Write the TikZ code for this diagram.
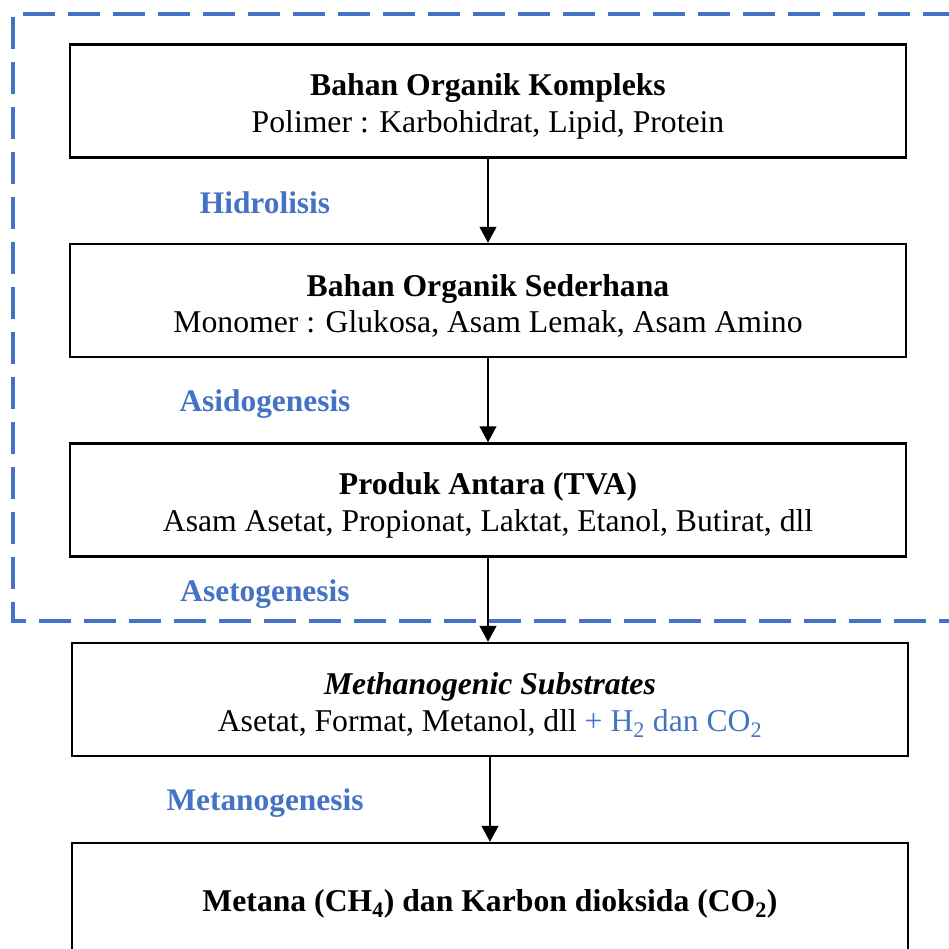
\documentclass[tikz,border=0pt]{standalone}
\usepackage{fontspec}
\setmainfont{Liberation Serif}
\usepackage{xcolor}
\usepackage{tikz}
\usetikzlibrary{arrows.meta}
\definecolor{stageblue}{HTML}{4472C4}
\newcommand{\toppad}{\rule{0pt}{33bp}}

\begin{document}
\begin{tikzpicture}[x=1bp, y=-1bp,
  box/.style={draw, line width=2.5bp, minimum width=836bp, minimum height=113bp,
              align=center, inner sep=0pt, font=\fontsize{31.8}{37}\selectfont},
  arr/.style={-{Triangle[width=17bp,length=16bp]}, line width=1.3bp},
  stage/.style={font=\fontsize{31.5}{34}\selectfont\bfseries, text=stageblue},
]
\useasboundingbox (0,0) rectangle (949,949);
% Fase hidrolisis s/d asetogenesis
\draw[stageblue, line width=4bp, dash pattern=on 32bp off 13bp] (1000,14) -- (13,14) -- (13,621) -- (1000,621);

% Tahapan
\node[box] (kompleks) at (488,101) {\toppad\textbf{Bahan Organik Kompleks}\\Polimer : Karbohidrat, Lipid, Protein};
\node[box] (sederhana) at (488,300.5) {\toppad\textbf{Bahan Organik Sederhana}\\Monomer : Glukosa, Asam Lemak, Asam Amino};
\node[box] (antara) at (488,500) {\toppad\textbf{Produk Antara (TVA)}\\Asam Asetat, Propionat, Laktat, Etanol, Butirat, dll};
\node[box] (substrat) at (490,699.5) {\toppad\textbf{\textit{Methanogenic Substrates}}\\Asetat, Format, Metanol, dll \textcolor{stageblue}{+ H\textsubscript{2} dan CO\textsubscript{2}}};
\node[box, minimum height=122bp] (metana) at (490,904) {\textbf{Metana (CH\textsubscript{4}) dan Karbon dioksida (CO\textsubscript{2})}};

% Panah
\draw[arr] (kompleks) -- (sederhana);
\draw[arr] (sederhana) -- (antara);
\draw[arr] (antara) -- (antara |- substrat.north);
\draw[arr] (substrat) -- (substrat |- metana.north);

% Label proses
\node[stage] (hidrolisis) at (265,203) {Hidrolisis};
\node[stage] (asidogenesis) at (265,404) {Asidogenesis};
\node[stage] (asetogenesis) at (265,594) {Asetogenesis};
\node[stage] (metanogenesis) at (265,803) {Metanogenesis};
\end{tikzpicture}
\end{document}
